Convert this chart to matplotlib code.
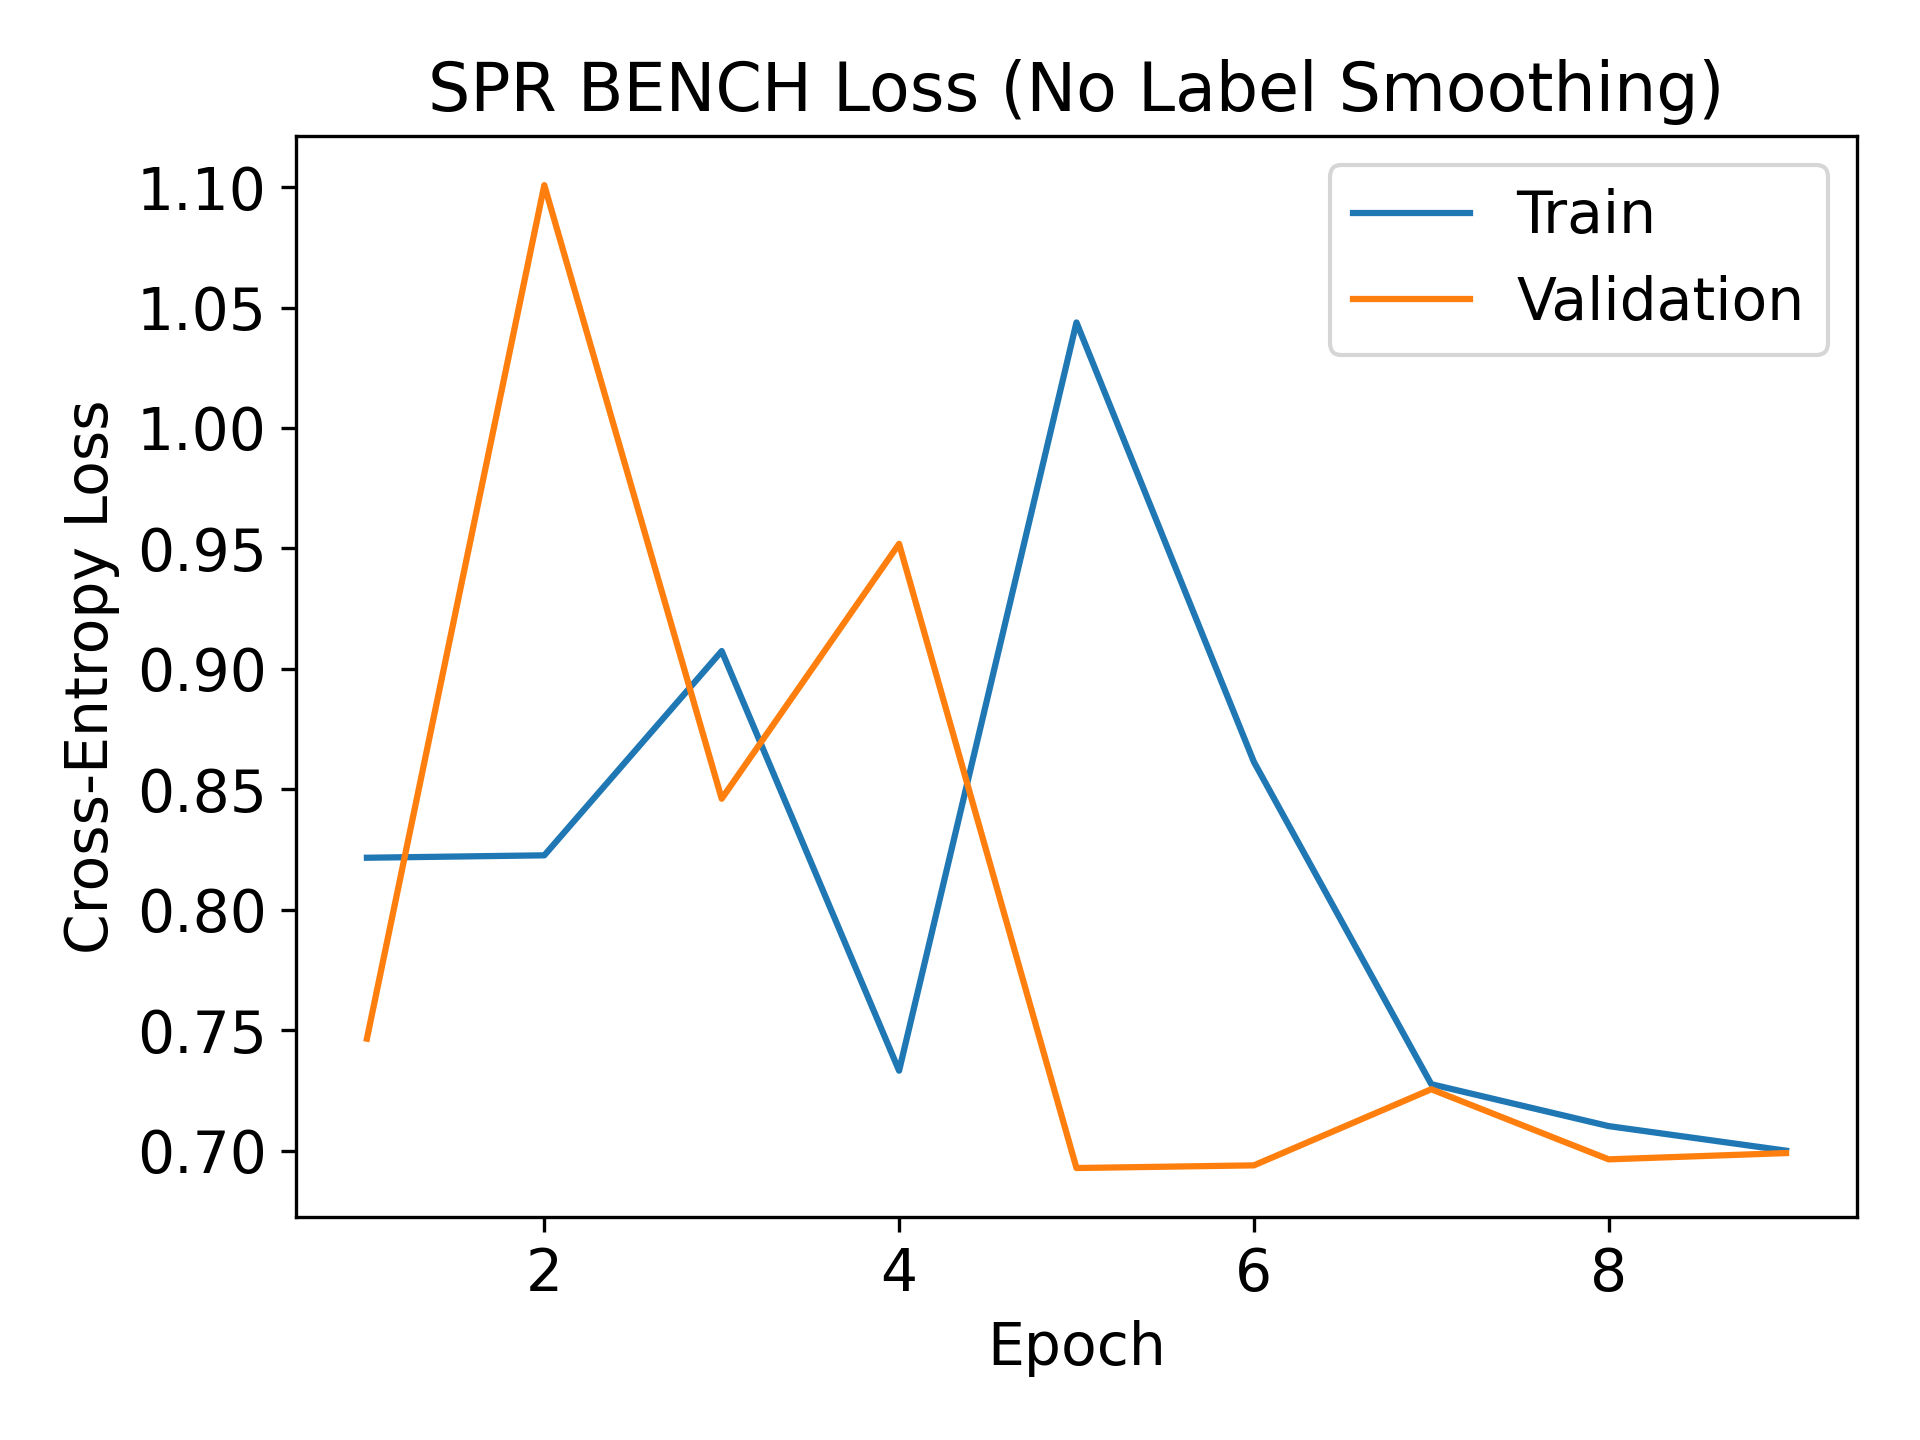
import matplotlib
matplotlib.use("Agg")
import matplotlib.pyplot as plt

epochs = [1, 2, 3, 4, 5, 6, 7, 8, 9]
train_loss = [0.8216, 0.8226, 0.9074, 0.7332, 1.0438, 0.8614, 0.7276, 0.7102, 0.7000]
val_loss = [0.7465, 1.1008, 0.8461, 0.9519, 0.6928, 0.6939, 0.7255, 0.6964, 0.6990]

plt.rcParams["font.size"] = 14
fig, ax = plt.subplots(figsize=(6.4, 4.8))
ax.plot(epochs, train_loss, label="Train")
ax.plot(epochs, val_loss, label="Validation")
ax.set_xlabel("Epoch")
ax.set_ylabel("Cross-Entropy Loss")
ax.set_title("SPR BENCH Loss (No Label Smoothing)", fontsize=16)
ax.legend()
fig.tight_layout()
fig.savefig("out.png", dpi=300)
